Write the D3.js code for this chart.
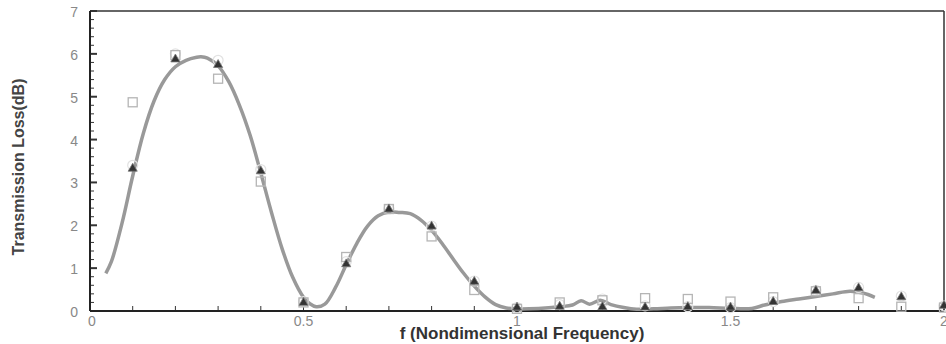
<!doctype html>
<html>
  <head>
    <meta charset="utf-8">
    <script src="https://cdn.jsdelivr.net/npm/d3@7"></script>
    <style>
      body { margin: 0; background: #fff; }
      svg { display: block; }
      .tick-label { font-family: "Liberation Sans", Arial, sans-serif; font-size: 14px; fill: #888; }
      .title { font-family: "Liberation Sans", Arial, sans-serif; font-weight: bold; fill: #333; }
    </style>
  </head>
  <body>
    <svg width="946" height="344"></svg>
    <script>
      // measured points at f = 0.1 ... 2.0
      var freqs = [0.1, 0.2, 0.3, 0.4, 0.5, 0.6, 0.7, 0.8, 0.9, 1.0,
                   1.1, 1.2, 1.3, 1.4, 1.5, 1.6, 1.7, 1.8, 1.9, 2.0];
      var triangles = [3.3, 5.85, 5.72, 3.24, 0.17, 1.07, 2.35, 1.95, 0.66, 0.06,
                       0.08, 0.07, 0.06, 0.07, 0.06, 0.19, 0.45, 0.51, 0.3, 0.1];
      var squares = [4.87, 5.97, 5.42, 3.02, 0.2, 1.26, 2.38, 1.74, 0.49, 0.05,
                     0.2, 0.25, 0.3, 0.28, 0.22, 0.32, 0.46, 0.3, 0.1, 0.08];
      var circles = [3.4, 6.0, 5.85, 3.3, 0.22, 1.15, 2.38, 1.98, 0.7, 0.08,
                     0.15, 0.28, 0.12, 0.1, 0.08, 0.22, 0.48, 0.55, 0.35, 0.12];

      // computed curve
      var curveF = [0.037, 0.05, 0.075, 0.1, 0.125, 0.15, 0.175, 0.2, 0.225, 0.25, 0.26, 0.275,
                    0.3, 0.325, 0.35, 0.375, 0.4, 0.425, 0.45, 0.475, 0.5, 0.515, 0.53,
                    0.55, 0.575, 0.6, 0.625, 0.65, 0.675, 0.7, 0.725, 0.75, 0.775,
                    0.8, 0.825, 0.85, 0.875, 0.9, 0.925, 0.95, 0.975, 1.0, 1.05,
                    1.1, 1.13, 1.15, 1.17, 1.195, 1.22, 1.25, 1.28, 1.32, 1.36, 1.4,
                    1.45, 1.5, 1.55, 1.58, 1.62, 1.66, 1.7, 1.74, 1.78, 1.81, 1.838];
      var curveTL = [0.88, 1.15, 2.05, 3.15, 4.15, 4.9, 5.4, 5.7, 5.85, 5.92, 5.93, 5.9,
                     5.72, 5.35, 4.8, 4.1, 3.22, 2.3, 1.45, 0.78, 0.32, 0.17, 0.1,
                     0.16, 0.55, 1.08, 1.58, 1.98, 2.22, 2.31, 2.3, 2.27, 2.12,
                     1.88, 1.57, 1.22, 0.88, 0.58, 0.33, 0.15, 0.07, 0.05, 0.06,
                     0.1, 0.14, 0.24, 0.16, 0.25, 0.15, 0.08, 0.04, 0.05, 0.07, 0.08,
                     0.08, 0.06, 0.06, 0.14, 0.22, 0.28, 0.34, 0.4, 0.46, 0.42, 0.32];

      var xTicks = [0, 0.5, 1, 1.5, 2];
      var yTicks = [0, 1, 2, 3, 4, 5, 6, 7];

      var plotL = 90, plotR = 944, plotT = 11, plotB = 311;
      var x = d3.scaleLinear().domain([0, 2]).range([plotL, plotR]);
      var y = d3.scaleLinear().domain([0, 7]).range([plotB, plotT]);

      var svg = d3.select("svg");

      // frame
      svg.append("line").attr("x1", plotL).attr("x2", plotR).attr("y1", plotT).attr("y2", plotT)
        .attr("stroke", "#333").attr("stroke-width", 1.5);
      svg.append("line").attr("x1", plotR).attr("x2", plotR).attr("y1", plotT).attr("y2", plotB)
        .attr("stroke", "#333").attr("stroke-width", 1.5);

      // y ticks
      var isMajor = d => Math.abs(d - Math.round(d)) < 1e-6;
      var yMinor = d3.range(0, 7.001, 0.2);
      svg.selectAll(".ymin").data(yMinor).enter().append("line")
        .attr("x1", plotL).attr("x2", d => isMajor(d) ? plotL + 7 : plotL + 4)
        .attr("y1", d => y(d)).attr("y2", d => y(d))
        .attr("stroke", "#333").attr("stroke-width", d => isMajor(d) ? 2 : 1);

      svg.selectAll(".ylab").data(yTicks).enter().append("text")
        .attr("class", "tick-label")
        .attr("x", plotL - 12).attr("y", d => y(d) + 6)
        .attr("text-anchor", "end")
        .text(d => d);

      // x ticks
      var xMinor = d3.range(0, 2.001, 0.1);
      svg.selectAll(".xmin").data(xMinor).enter().append("line")
        .attr("x1", d => x(d)).attr("x2", d => x(d))
        .attr("y1", plotB).attr("y2", plotB - 5)
        .attr("stroke", "#333").attr("stroke-width", 1);

      svg.selectAll(".xlab").data(xTicks).enter().append("text")
        .attr("class", "tick-label")
        .attr("x", d => x(d) + (d === 0 ? 2 : 0)).attr("y", plotB + 15)
        .attr("text-anchor", "middle")
        .text(d => d);

      // axes lines
      svg.append("line").attr("x1", plotL).attr("x2", plotL).attr("y1", plotT).attr("y2", plotB)
        .attr("stroke", "#222").attr("stroke-width", 2);
      svg.append("line").attr("x1", plotL).attr("x2", plotR).attr("y1", plotB).attr("y2", plotB)
        .attr("stroke", "#222").attr("stroke-width", 2);

      // curve
      var line = d3.line().x(d => x(d[0])).y(d => y(d[1])).curve(d3.curveCatmullRom);
      svg.append("path")
        .datum(curveF.map((f, i) => [f, curveTL[i]]))
        .attr("d", line)
        .attr("fill", "none")
        .attr("stroke", "#999")
        .attr("stroke-width", 3.5)
        .attr("stroke-linejoin", "round");

      // faint circles
      svg.selectAll(".circ").data(freqs).enter().append("circle")
        .attr("cx", d => x(d)).attr("cy", (d, i) => y(circles[i]))
        .attr("r", 5).attr("fill", "none").attr("stroke", "#e2e2e2").attr("stroke-width", 1.2);

      // squares
      svg.selectAll(".sq").data(freqs).enter().append("rect")
        .attr("x", d => x(d) - 4.5).attr("y", (d, i) => y(squares[i]) - 4.5)
        .attr("width", 9).attr("height", 9)
        .attr("fill", "none").attr("stroke", "#b5b5b5").attr("stroke-width", 1.3);

      // triangles
      var tri = d3.symbol().type(d3.symbolTriangle).size(36);
      svg.selectAll(".tri").data(freqs).enter().append("path")
        .attr("d", tri)
        .attr("transform", (d, i) => "translate(" + x(d) + "," + (y(triangles[i]) - 1) + ")")
        .attr("fill", "#333").attr("stroke", "#777").attr("stroke-width", 0.8);

      // titles
      svg.append("text").attr("class", "title")
        .attr("x", 522).attr("y", 339)
        .attr("text-anchor", "middle")
        .style("font-size", "17px")
        .text("f (Nondimensional Frequency)");

      svg.append("text").attr("class", "title")
        .attr("transform", "translate(24,167) rotate(-90)")
        .attr("text-anchor", "middle")
        .style("font-size", "16px")
        .style("fill", "#444")
        .text("Transmission Loss(dB)");
    </script>
  </body>
</html>
